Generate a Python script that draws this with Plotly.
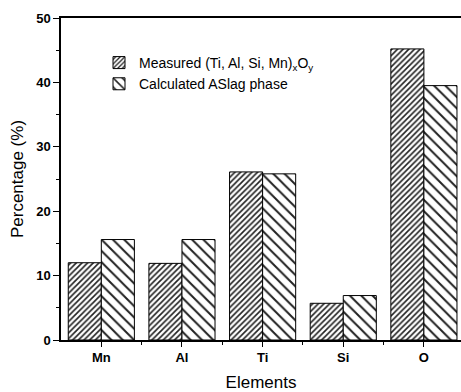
import plotly.graph_objects as go

# Element percentages: measured oxide vs calculated slag phase
elements = ["Mn", "Al", "Ti", "Si", "O"]
measured = [12.0, 11.9, 26.1, 5.7, 45.2]
calculated = [15.6, 15.6, 25.8, 6.9, 39.5]
y_ticks = [0, 10, 20, 30, 40, 50]

positions = list(range(1, len(elements) + 1))

fig = go.Figure()
fig.add_trace(go.Bar(
    x=positions, y=measured,
    name="Measured (Ti, Al, Si, Mn)<sub>x</sub>O<sub>y</sub>",
    marker=dict(color="white", line=dict(color="black", width=1),
                pattern=dict(shape="/", size=4, solidity=0.4,
                             fgcolor="#222222", bgcolor="white", fillmode="replace")),
))
fig.add_trace(go.Bar(
    x=positions, y=calculated,
    name="Calculated ASlag phase",
    marker=dict(color="white", line=dict(color="black", width=1),
                pattern=dict(shape="\\", size=8, solidity=0.25,
                             fgcolor="#222222", bgcolor="white", fillmode="replace")),
))

font_family = "Liberation Sans, Arial, sans-serif"

fig.update_layout(
    width=461, height=392,
    margin=dict(l=61, r=0, t=18, b=52),
    paper_bgcolor="white", plot_bgcolor="white",
    barmode="group", bargap=0.18, bargroupgap=0,
    font=dict(family=font_family, color="black"),
    showlegend=True,
    legend=dict(x=0.095, y=0.91, xanchor="left", yanchor="top",
                bgcolor="rgba(0,0,0,0)", borderwidth=0,
                font=dict(size=14, family=font_family, color="black"),
                tracegroupgap=2),
    xaxis=dict(
        range=[0.5, 5.46],
        tickmode="array", tickvals=positions, ticktext=elements,
        tickfont=dict(size=13, family="Liberation Sans, Arial", weight="bold"),
        ticks="outside", ticklen=5, tickwidth=1.2, tickcolor="black",
        minor=dict(tickvals=[1.5, 2.5, 3.5, 4.5], ticks="outside",
                   ticklen=3, tickwidth=1.2, tickcolor="black"),
        showline=True, linecolor="black", linewidth=1.5, mirror=True,
        showgrid=False, zeroline=False,
        title=dict(text="Elements", font=dict(size=17), standoff=14),
    ),
    yaxis=dict(
        range=[0, 50],
        tickmode="array", tickvals=y_ticks,
        tickfont=dict(size=13, family="Liberation Sans, Arial", weight="bold"),
        ticks="outside", ticklen=6, tickwidth=1.2, tickcolor="black",
        minor=dict(dtick=5, tick0=0, ticks="outside",
                   ticklen=3, tickwidth=1.2, tickcolor="black"),
        showline=True, linecolor="black", linewidth=1.5, mirror=False,
        showgrid=False, zeroline=False,
        title=dict(text="Percentage (%)", font=dict(size=17), standoff=8),
    ),
)

fig.write_html("out.html")
